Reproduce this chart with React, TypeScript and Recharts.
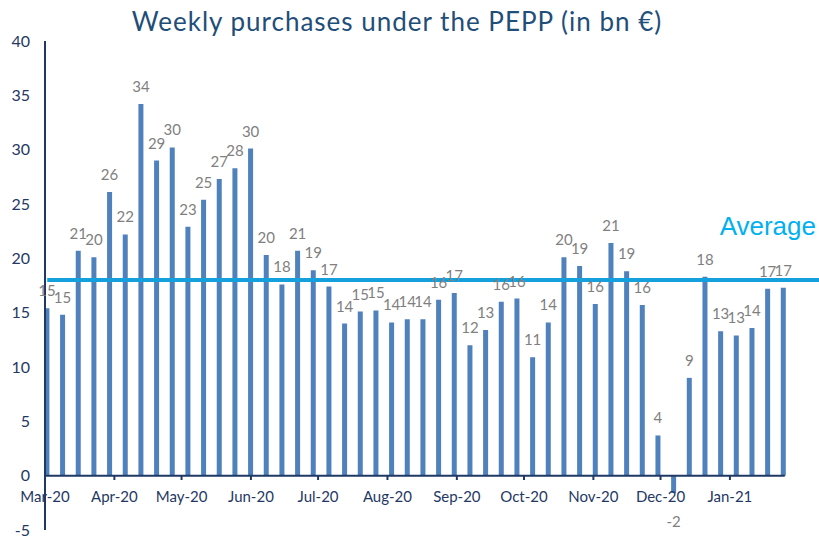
import { BarChart, Bar, XAxis, YAxis, ReferenceLine, LabelList } from "recharts";

// weekly purchase weeks (Monday of each week)
const weeks = [
  "2020-03-02", "2020-03-09", "2020-03-16", "2020-03-23", "2020-03-30",
  "2020-04-06", "2020-04-13", "2020-04-20", "2020-04-27", "2020-05-04",
  "2020-05-11", "2020-05-18", "2020-05-25", "2020-06-01", "2020-06-08",
  "2020-06-15", "2020-06-22", "2020-06-29", "2020-07-06", "2020-07-13",
  "2020-07-20", "2020-07-27", "2020-08-03", "2020-08-10", "2020-08-17",
  "2020-08-24", "2020-08-31", "2020-09-07", "2020-09-14", "2020-09-21",
  "2020-09-28", "2020-10-05", "2020-10-12", "2020-10-19", "2020-10-26",
  "2020-11-02", "2020-11-09", "2020-11-16", "2020-11-23", "2020-11-30",
  "2020-12-07", "2020-12-14", "2020-12-21", "2020-12-28", "2021-01-04",
  "2021-01-11", "2021-01-18", "2021-01-25",
];

// purchases in bn €
const purchases = [
  15.4, 14.8, 20.7, 20.1, 26.1, 22.2, 34.2, 29.0, 30.2, 22.9,
  25.4, 27.3, 28.3, 30.1, 20.3, 17.6, 20.7, 18.9, 17.4, 14.0,
  15.1, 15.2, 14.1, 14.4, 14.4, 16.2, 16.8, 12.0, 13.4, 16.0,
  16.3, 10.9, 14.1, 20.1, 19.3, 15.8, 21.4, 18.8, 15.7, 3.7,
  -1.6, 9.0, 18.3, 13.3, 12.9, 13.6, 17.2, 17.3,
];

const average = 18;

const monthStarts = [
  "2020-03-01", "2020-04-01", "2020-05-01", "2020-06-01", "2020-07-01",
  "2020-08-01", "2020-09-01", "2020-10-01", "2020-11-01", "2020-12-01",
  "2021-01-01",
];
const monthLabels = [
  "Mar-20", "Apr-20", "May-20", "Jun-20", "Jul-20", "Aug-20",
  "Sep-20", "Oct-20", "Nov-20", "Dec-20", "Jan-21",
];

const yTicks = [-5, 0, 5, 10, 15, 20, 25, 30, 35, 40];

const START = Date.UTC(2020, 2, 1);
const toDay = (iso: string) => Math.round((Date.parse(iso) - START) / 86400000);

const data = weeks.map((w, i) => ({ day: toDay(w), value: purchases[i] }));
const lastDay = toDay(weeks[weeks.length - 1]);

const NAVY = "#1f3864";
const FONT = "Lato, 'Open Sans', sans-serif";

// value label above positive bars, below negative ones
function ValueLabel(props: any) {
  const { x, y, width, height, value } = props;
  const top = Math.min(y, y + height);
  const bottom = Math.max(y, y + height);
  const neg = value < 0;
  return (
    <text
      x={x + width / 2}
      y={neg ? bottom + 34 : top - 12}
      textAnchor="middle"
      fill="#7f7f7f"
      fontSize={15}
      fontFamily={FONT}
    >
      {Math.round(value)}
    </text>
  );
}

export default function App() {
  return (
    <div style={{ position: "absolute", left: 0, top: 0, width: 819, height: 536, background: "#fff" }}>
      <div
        style={{
          position: "absolute",
          left: 0,
          top: 5,
          width: 794,
          textAlign: "center",
          fontFamily: FONT,
          fontSize: 26,
          letterSpacing: 1.0,
          color: "#1f4e79",
        }}
      >
        Weekly purchases under the PEPP (in bn €)
      </div>
      <BarChart
        width={819}
        height={536}
        data={data}
        margin={{ top: 41, right: 0, bottom: 6, left: 0 }}
        style={{ position: "absolute", left: 0, top: 0 }}
      >
        <XAxis dataKey="day" type="number" domain={[0, 345.8]} hide />
        <YAxis
          domain={[-5, 40]}
          ticks={yTicks}
          width={45}
          tickLine={false}
          tickSize={6}
          tickMargin={9}
          axisLine={{ stroke: NAVY, strokeWidth: 2 }}
          tick={{ fill: NAVY, fontSize: 16, fontFamily: FONT }}
          interval={0}
        />
        <Bar dataKey="value" fill="#4f81bd" barSize={5} isAnimationActive={false}>
          <LabelList dataKey="value" content={ValueLabel} />
        </Bar>
        <ReferenceLine
          segment={[{ x: 0, y: 0 }, { x: lastDay + 0.5, y: 0 }]}
          stroke={NAVY}
          strokeWidth={2}
        />
        {monthStarts.map((m, i) => (
          <ReferenceLine
            key={m}
            segment={[{ x: toDay(m), y: 0 }, { x: toDay(m), y: -0.4 }]}
            stroke={NAVY}
            strokeWidth={2}
            label={{
              value: monthLabels[i],
              position: "bottom",
              offset: 11,
              fill: NAVY,
              fontSize: 15,
              fontFamily: FONT,
            }}
          />
        ))}
        <ReferenceLine
          segment={[{ x: 1, y: average }, { x: 345.8, y: average }]}
          stroke="#14a0dc"
          strokeWidth={4}
          label={(props: any) => {
            const vb = props.viewBox;
            return (
              <text
                x={vb.x + vb.width - 3}
                y={vb.y - 45}
                textAnchor="end"
                fill="#00b0f0"
                fontSize={26}
                fontFamily="'Liberation Sans', Arial, sans-serif"
              >
                Average
              </text>
            );
          }}
        />
      </BarChart>
    </div>
  );
}
